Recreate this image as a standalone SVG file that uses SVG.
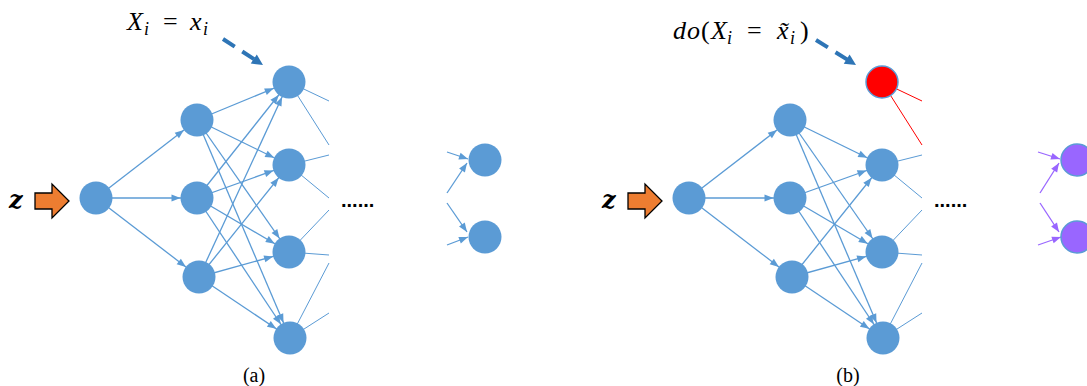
<svg xmlns="http://www.w3.org/2000/svg" width="1087" height="386" viewBox="0 0 1087 386">
<style>
.e{stroke:#5B9BD5;stroke-width:1.3;fill:none;marker-end:url(#ah)}
.t{stroke:#5B9BD5;stroke-width:1;fill:none}
.tr{stroke:#FF0000;stroke-width:1;fill:none}
.ei{stroke:#5B9BD5;stroke-width:1.3;fill:none;marker-end:url(#aht)}
.ep{stroke:#9966FF;stroke-width:1.3;fill:none;marker-end:url(#ahp)}
.d{stroke:#2E75B6;stroke-width:4;fill:none;stroke-dasharray:14 9 14 100;marker-end:url(#ahd)}
.n{fill:#5B9BD5}
.np{fill:#9966FF;stroke:#5B9BD5;stroke-width:1.5}
.nr{fill:#FF0000;stroke:#5B9BD5;stroke-width:1.5}
.oa{fill:#ED7D31;stroke:#000;stroke-width:1.3}
.m{font-family:"Liberation Serif",serif;font-size:26px;fill:#000}
.mi{font-style:italic}
.s{font-size:18px}
.z{font-family:"DejaVu Serif",serif;font-size:24px;font-weight:bold;font-style:italic;fill:#000}
.dots{font-family:"Liberation Sans",sans-serif;font-size:20px;font-weight:bold;fill:#000}
.cap{font-family:"Liberation Serif",serif;font-size:20px;fill:#000;text-anchor:middle}
</style>
<defs>
<marker id="ah" markerUnits="userSpaceOnUse" markerWidth="10" markerHeight="8" refX="25.5" refY="3.5" orient="auto" overflow="visible"><path d="M0,0 L9,3.5 L0,7 Z" fill="#5B9BD5"/></marker>
<marker id="aht" markerUnits="userSpaceOnUse" markerWidth="10" markerHeight="8" refX="9" refY="3.5" orient="auto" overflow="visible"><path d="M0,0 L9,3.5 L0,7 Z" fill="#5B9BD5"/></marker>
<marker id="ahp" markerUnits="userSpaceOnUse" markerWidth="10" markerHeight="8" refX="9" refY="3.5" orient="auto" overflow="visible"><path d="M0,0 L9,3.5 L0,7 Z" fill="#9966FF"/></marker>
<marker id="ahd" markerUnits="userSpaceOnUse" markerWidth="12" markerHeight="11" refX="11" refY="5.5" orient="auto" overflow="visible"><path d="M0,0 L11,5.5 L0,11 Z" fill="#2E75B6"/></marker>
</defs>

<g id="connectors">
<line class="e" x1="96" y1="198" x2="197" y2="120"/>
<line class="e" x1="96" y1="198" x2="197" y2="198"/>
<line class="e" x1="96" y1="198" x2="199" y2="277"/>
<line class="e" x1="197" y1="120" x2="289" y2="82"/>
<line class="e" x1="197" y1="120" x2="289" y2="165"/>
<line class="e" x1="197" y1="120" x2="289" y2="252"/>
<line class="e" x1="197" y1="120" x2="290" y2="338"/>
<line class="e" x1="197" y1="198" x2="289" y2="82"/>
<line class="e" x1="197" y1="198" x2="289" y2="165"/>
<line class="e" x1="197" y1="198" x2="289" y2="252"/>
<line class="e" x1="197" y1="198" x2="290" y2="338"/>
<line class="e" x1="199" y1="277" x2="289" y2="82"/>
<line class="e" x1="199" y1="277" x2="289" y2="165"/>
<line class="e" x1="199" y1="277" x2="289" y2="252"/>
<line class="e" x1="199" y1="277" x2="290" y2="338"/>
<line class="t" x1="289" y1="82" x2="329" y2="101"/>
<line class="t" x1="289" y1="82" x2="329" y2="145"/>
<line class="t" x1="289" y1="165" x2="329" y2="155"/>
<line class="t" x1="289" y1="165" x2="329" y2="198"/>
<line class="t" x1="289" y1="252" x2="329" y2="210"/>
<line class="t" x1="289" y1="252" x2="329" y2="255"/>
<line class="t" x1="290" y1="338" x2="329" y2="263"/>
<line class="t" x1="290" y1="338" x2="329" y2="313"/>
<line class="ei" x1="447" y1="152" x2="468" y2="159"/>
<line class="ei" x1="447" y1="193" x2="467" y2="163"/>
<line class="ei" x1="447" y1="203" x2="467" y2="232"/>
<line class="ei" x1="447" y1="245" x2="468" y2="237"/>
<line class="d" x1="223" y1="39" x2="263" y2="65"/>

<line class="e" x1="689" y1="198" x2="790" y2="120"/>
<line class="e" x1="689" y1="198" x2="790" y2="198"/>
<line class="e" x1="689" y1="198" x2="792" y2="277"/>
<line class="e" x1="790" y1="120" x2="882" y2="165"/>
<line class="e" x1="790" y1="120" x2="882" y2="252"/>
<line class="e" x1="790" y1="120" x2="883" y2="338"/>
<line class="e" x1="790" y1="198" x2="882" y2="165"/>
<line class="e" x1="790" y1="198" x2="882" y2="252"/>
<line class="e" x1="790" y1="198" x2="883" y2="338"/>
<line class="e" x1="792" y1="277" x2="882" y2="165"/>
<line class="e" x1="792" y1="277" x2="882" y2="252"/>
<line class="e" x1="792" y1="277" x2="883" y2="338"/>
<line class="tr" x1="882" y1="82" x2="922" y2="101"/>
<line class="tr" x1="882" y1="82" x2="922" y2="145"/>
<line class="t" x1="882" y1="165" x2="922" y2="155"/>
<line class="t" x1="882" y1="165" x2="922" y2="198"/>
<line class="t" x1="882" y1="252" x2="922" y2="210"/>
<line class="t" x1="882" y1="252" x2="922" y2="255"/>
<line class="t" x1="883" y1="338" x2="922" y2="263"/>
<line class="t" x1="883" y1="338" x2="922" y2="313"/>
<line class="ep" x1="1038" y1="152" x2="1060" y2="159"/>
<line class="ep" x1="1040" y1="193" x2="1059" y2="163"/>
<line class="ep" x1="1040" y1="203" x2="1059" y2="232"/>
<line class="ep" x1="1038" y1="245" x2="1061" y2="237"/>
<line class="d" x1="816" y1="40" x2="856" y2="65"/>
</g>

<g id="a-z"><text class="z" x="9" y="208">z</text></g>
<g id="a-zarrow"><path class="oa" d="M35,193 H52 V184 L69,201 L52,218 V209 H35 Z"/></g>
<g id="a-in"><circle class="n" cx="96" cy="198" r="16.5"/></g>
<g id="a-h1"><circle class="n" cx="197" cy="120" r="16.5"/></g>
<g id="a-h2"><circle class="n" cx="197" cy="198" r="16.5"/></g>
<g id="a-h3"><circle class="n" cx="199" cy="277" r="16.5"/></g>
<g id="a-x1"><circle class="n" cx="289" cy="82" r="16.5"/></g>
<g id="a-x2"><circle class="n" cx="289" cy="165" r="16.5"/></g>
<g id="a-x3"><circle class="n" cx="289" cy="252" r="16.5"/></g>
<g id="a-x4"><circle class="n" cx="290" cy="338" r="16.5"/></g>
<g id="a-o1"><circle class="n" cx="485" cy="160" r="16.5"/></g>
<g id="a-o2"><circle class="n" cx="485" cy="237" r="16.5"/></g>
<g id="a-dots"><text class="dots" x="341" y="207">......</text></g>
<g id="a-label">
<text class="m"><tspan class="mi" x="127" y="30">X</tspan><tspan class="mi s" x="144" y="35">i</tspan><tspan x="163" y="30">=</tspan><tspan class="mi" x="190" y="30">x</tspan><tspan class="mi s" x="203" y="35">i</tspan></text>
</g>
<g id="a-cap"><text class="cap" x="254" y="382">(a)</text></g>

<g id="b-z"><text class="z" x="602" y="208">z</text></g>
<g id="b-zarrow"><path class="oa" d="M628,193 H645 V184 L662,201 L645,218 V209 H628 Z"/></g>
<g id="b-in"><circle class="n" cx="689" cy="198" r="16.5"/></g>
<g id="b-h1"><circle class="n" cx="790" cy="120" r="16.5"/></g>
<g id="b-h2"><circle class="n" cx="790" cy="198" r="16.5"/></g>
<g id="b-h3"><circle class="n" cx="792" cy="277" r="16.5"/></g>
<g id="b-x1"><circle class="nr" cx="882" cy="82" r="16"/></g>
<g id="b-x2"><circle class="n" cx="882" cy="165" r="16.5"/></g>
<g id="b-x3"><circle class="n" cx="882" cy="252" r="16.5"/></g>
<g id="b-x4"><circle class="n" cx="883" cy="338" r="16.5"/></g>
<g id="b-o1"><circle class="np" cx="1077" cy="160" r="16"/></g>
<g id="b-o2"><circle class="np" cx="1077" cy="237" r="16"/></g>
<g id="b-dots"><text class="dots" x="934" y="207">......</text></g>
<g id="b-label">
<text class="m"><tspan class="mi" x="673" y="39">d</tspan><tspan class="mi" x="687" y="39">o</tspan><tspan x="701" y="39">(</tspan><tspan class="mi" x="711" y="39">X</tspan><tspan class="mi s" x="727" y="44">i</tspan><tspan x="747" y="39">=</tspan><tspan class="mi" x="777" y="39">x̃</tspan><tspan class="mi s" x="790" y="44">i</tspan><tspan x="800" y="39">)</tspan></text>
</g>
<g id="b-cap"><text class="cap" x="848" y="382">(b)</text></g>
</svg>
